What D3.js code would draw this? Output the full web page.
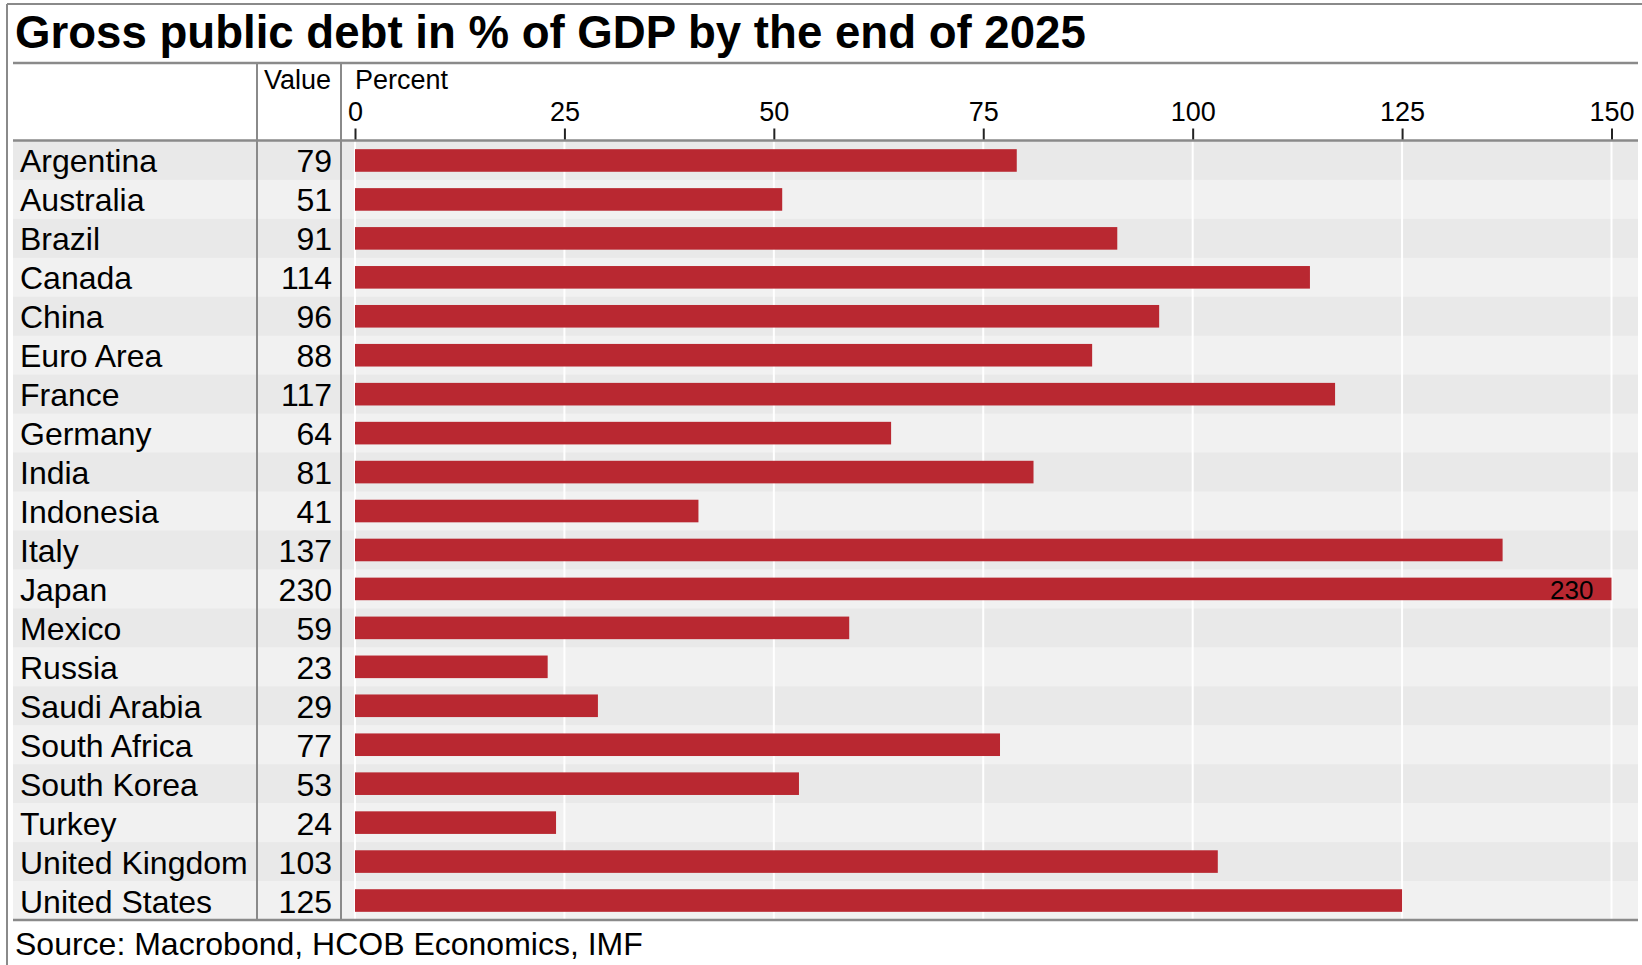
<!DOCTYPE html>
<html>
<head>
<meta charset="utf-8">
<script src="https://cdn.jsdelivr.net/npm/d3@7"></script>
<style>
  html, body { margin: 0; padding: 0; background: #fff; }
  svg { display: block; font-family: "Liberation Sans", Arial, Helvetica, sans-serif; }
</style>
</head>
<body>
<svg id="chart" width="1642" height="965"></svg>
<script>
// Gross public debt, % of GDP, end of 2025
const countries = [
  "Argentina", "Australia", "Brazil", "Canada", "China", "Euro Area", "France",
  "Germany", "India", "Indonesia", "Italy", "Japan", "Mexico", "Russia",
  "Saudi Arabia", "South Africa", "South Korea", "Turkey", "United Kingdom", "United States"
];
const debtValues = [79, 51, 91, 114, 96, 88, 117, 64, 81, 41, 137, 230, 59, 23, 29, 77, 53, 24, 103, 125];
const tickValues = [0, 25, 50, 75, 100, 125, 150];

const titleText = "Gross public debt in % of GDP by the end of 2025";
const sourceText = "Source: Macrobond, HCOB Economics, IMF";

const W = 1642, H = 965;
const frame = { left: 7, top: 4 };
const table = { left: 13, right: 1638, titleLine: 63, headerLine: 140.5, bottom: 920 };
const colSep1 = 257, colSep2 = 341;
const valueRight = 332;
const lineGrey = "#8a8a8a";
const barColor = "#b92831";

const svg = d3.select("#chart");

const x = d3.scaleLinear().domain([0, 150]).range([355, 1611.5]).clamp(true);
const yRow = d3.scaleBand().domain(countries).range([table.headerLine + 0.5, table.bottom]).padding(0);
const rowH = yRow.bandwidth();
const barH = rowH * 0.58;

const rows = countries.map((c, i) => ({ country: c, value: debtValues[i], i }));

// alternating row bands
svg.append("g").selectAll("rect")
  .data(rows).join("rect")
  .attr("x", table.left)
  .attr("y", d => yRow(d.country))
  .attr("width", table.right - table.left)
  .attr("height", rowH + 0.5)
  .attr("fill", d => d.i % 2 === 0 ? "#e9e9e9" : "#f1f1f1");

// vertical gridlines
svg.append("g").selectAll("line")
  .data(tickValues).join("line")
  .attr("x1", d => x(d)).attr("x2", d => x(d))
  .attr("y1", table.headerLine).attr("y2", table.bottom)
  .attr("stroke", "#fff").attr("stroke-width", 2);

// bars
svg.append("g").selectAll("rect")
  .data(rows).join("rect")
  .attr("x", x(0))
  .attr("y", d => yRow(d.country) + (rowH - barH) / 2)
  .attr("width", d => x(d.value) - x(0))
  .attr("height", barH)
  .attr("fill", barColor);

// label inside bars that run past the axis end
svg.append("g").selectAll("text")
  .data(rows.filter(d => d.value > x.domain()[1])).join("text")
  .attr("x", d => x(d.value) - 18)
  .attr("y", d => yRow(d.country) + rowH / 2 + 10)
  .attr("text-anchor", "end")
  .attr("font-size", 26)
  .attr("fill", "#000")
  .text(d => d.value);

// country names
svg.append("g").selectAll("text")
  .data(rows).join("text")
  .attr("x", 20)
  .attr("y", d => yRow(d.country) + rowH / 2 + 12)
  .attr("font-size", 32)
  .attr("fill", "#000")
  .text(d => d.country);

// value column
svg.append("g").selectAll("text")
  .data(rows).join("text")
  .attr("x", valueRight)
  .attr("y", d => yRow(d.country) + rowH / 2 + 12)
  .attr("text-anchor", "end")
  .attr("font-size", 32)
  .attr("fill", "#000")
  .text(d => d.value);

// top axis
const axis = d3.axisTop(x).tickValues(tickValues).tickSize(12).tickPadding(8).tickFormat(d3.format("d"));
const gAxis = svg.append("g")
  .attr("transform", `translate(0,${table.headerLine})`)
  .call(axis);
gAxis.select(".domain").remove();
gAxis.selectAll(".tick line").attr("stroke", "#222").attr("stroke-width", 2);
gAxis.selectAll(".tick text")
  .attr("font-size", 27)
  .attr("font-family", "Liberation Sans, Arial, sans-serif")
  .attr("fill", "#000");

// header texts
svg.append("text")
  .attr("x", valueRight - 1).attr("y", 89)
  .attr("text-anchor", "end").attr("font-size", 27).attr("fill", "#000")
  .text("Value");
svg.append("text")
  .attr("x", 355).attr("y", 89)
  .attr("font-size", 27).attr("fill", "#000")
  .text("Percent");

// table rules
const rules = svg.append("g").attr("stroke", lineGrey).attr("fill", "none");
rules.append("line").attr("x1", table.left).attr("x2", table.right)
  .attr("y1", table.titleLine).attr("y2", table.titleLine).attr("stroke-width", 2.5);
rules.append("line").attr("x1", table.left).attr("x2", table.right)
  .attr("y1", table.headerLine).attr("y2", table.headerLine).attr("stroke-width", 2.5);
rules.append("line").attr("x1", table.left).attr("x2", table.right)
  .attr("y1", table.bottom).attr("y2", table.bottom).attr("stroke-width", 2.5);
[colSep1, colSep2].forEach(cx => {
  rules.append("line").attr("x1", cx).attr("x2", cx)
    .attr("y1", table.titleLine).attr("y2", table.bottom).attr("stroke-width", 2);
});

// outer frame (top and left edges)
rules.append("line").attr("x1", frame.left).attr("x2", W)
  .attr("y1", frame.top).attr("y2", frame.top).attr("stroke-width", 2);
rules.append("line").attr("x1", frame.left).attr("x2", frame.left)
  .attr("y1", frame.top).attr("y2", H).attr("stroke-width", 2);

// title
svg.append("text")
  .attr("x", 15).attr("y", 48)
  .attr("font-size", 45.6).attr("font-weight", "bold").attr("fill", "#000")
  .text(titleText);

// source
svg.append("text")
  .attr("x", 15).attr("y", 955)
  .attr("font-size", 32).attr("fill", "#000")
  .text(sourceText);
</script>
</body>
</html>
